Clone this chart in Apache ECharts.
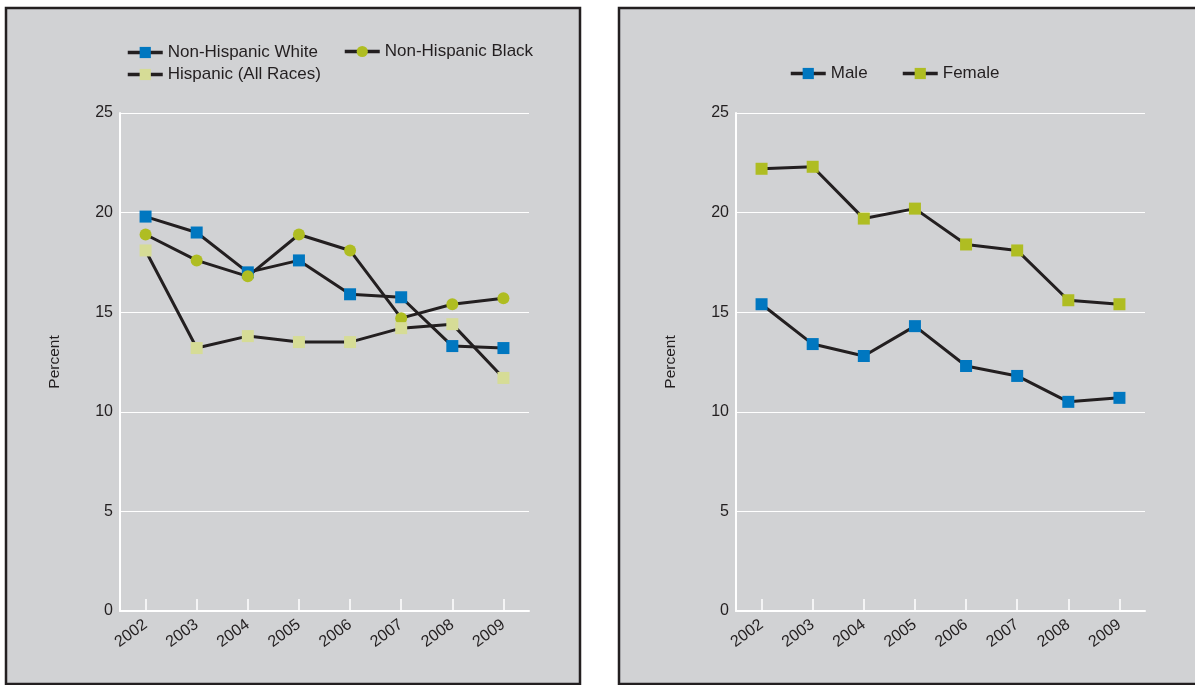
<!DOCTYPE html>
<html><head><meta charset="utf-8">
<script src="https://cdn.jsdelivr.net/npm/echarts@6/dist/echarts.min.js"></script>
<style>html,body{margin:0;padding:0;background:#fff}#c{width:1195px;height:685px}</style>
</head><body><div id="c"></div>
<script>
const years = ['2002','2003','2004','2005','2006','2007','2008','2009'];
const yTicks = [0,5,10,15,20,25];
const nhWhite = [19.8,19.0,17.0,17.6,15.9,15.75,13.3,13.2];
const nhBlack = [18.9,17.6,16.8,18.9,18.1,14.7,15.4,15.7];
const hispanic = [18.1,13.2,13.8,13.5,13.5,14.2,14.4,11.7];
const male = [15.4,13.4,12.8,14.3,12.3,11.8,10.5,10.7];
const female = [22.2,22.3,19.7,20.2,18.4,18.1,15.6,15.4];

const INK = '#231f20', BG = '#d1d2d4', BLUE = '#0077c0', OLIVE = '#afbd22', PALE = '#d6dc96';
const FONT = 'Liberation Sans, Arial, sans-serif';

function xAxis(i){return {type:'category',gridIndex:i,data:years,boundaryGap:true,
  axisLine:{lineStyle:{color:'#fff',width:2}},
  axisTick:{show:true,inside:true,length:12,alignWithLabel:true,lineStyle:{color:'#fff',width:1.5}},
  axisLabel:{rotate:36,color:INK,fontSize:16,fontFamily:FONT,margin:12}};}
function yAxis(i){return {type:'value',gridIndex:i,min:yTicks[0],max:yTicks[yTicks.length-1],interval:5,
  name:'Percent',nameLocation:'middle',nameGap:57,nameRotate:90,
  nameTextStyle:{color:INK,fontSize:15.5,fontFamily:FONT},
  axisLine:{show:true,lineStyle:{color:'#fff',width:2}},axisTick:{show:false},
  splitLine:{lineStyle:{color:'#fff',width:1.2}},
  axisLabel:{color:INK,fontSize:16,fontFamily:FONT,margin:7}};}
function ser(name,data,i,sym,color){return {name,type:'line',xAxisIndex:i,yAxisIndex:i,data,
  symbol:sym,symbolSize:12,showAllSymbol:true,
  lineStyle:{color:INK,width:3},itemStyle:{color:color,borderWidth:0},z:3};}
function leg(name,left,top){return {data:[name],left:left,top:top,itemWidth:35,itemHeight:14,
  lineStyle:{width:3.5,color:INK},
  textStyle:{color:INK,fontSize:17,fontFamily:FONT},padding:0};}

const chart = echarts.init(document.getElementById('c'),null,{renderer:'canvas'});
chart.setOption({
  backgroundColor:'#fff',
  animation:false,
  graphic:[
    {type:'rect',shape:{x:6,y:8,width:574,height:676},style:{fill:BG,stroke:INK,lineWidth:2.5},z:-10},
    {type:'rect',shape:{x:619,y:8,width:600,height:676},style:{fill:BG,stroke:INK,lineWidth:2.5},z:-10}
  ],
  legend:[
    leg('Non-Hispanic White',126,44),
    leg('Non-Hispanic Black',343,43),
    leg('Hispanic (All Races)',126,66),
    leg('Male',789,65),
    leg('Female',901,65)
  ],
  grid:[
    {left:120,top:113,width:409,height:498},
    {left:736,top:113,width:409,height:498}
  ],
  xAxis:[xAxis(0),xAxis(1)],
  yAxis:[yAxis(0),yAxis(1)],
  series:[
    ser('Non-Hispanic White',nhWhite,0,'rect',BLUE),
    ser('Non-Hispanic Black',nhBlack,0,'circle',OLIVE),
    ser('Hispanic (All Races)',hispanic,0,'rect',PALE),
    ser('Male',male,1,'rect',BLUE),
    ser('Female',female,1,'rect',OLIVE)
  ]
});
</script></body></html>
